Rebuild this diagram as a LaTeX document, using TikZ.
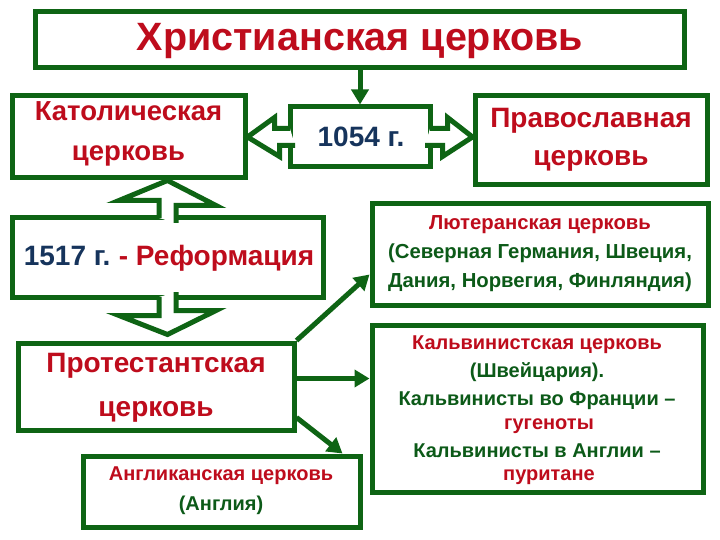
\documentclass[tikz,border=0pt]{standalone}
\usepackage{fontspec}
\setmainfont{Liberation Sans}
\usetikzlibrary{arrows.meta,calc}
\definecolor{bgreen}{RGB}{14,100,20}
\definecolor{tred}{RGB}{190,12,28}
\definecolor{tgreen}{RGB}{12,90,24}
\definecolor{tblue}{RGB}{22,52,92}
\begin{document}
\begin{tikzpicture}[x=1pt,y=-1pt,
  box/.style={draw=bgreen,line width=5pt,fill=white,inner sep=0pt},
  txt/.style={align=center,inner sep=0pt,font=\bfseries},
  harrow/.style={draw=bgreen,line width=5pt,line join=miter},
  conn/.style={draw=bgreen,line width=5pt,-{Triangle[length=15pt,width=17pt]}}]
\useasboundingbox[fill=white] (0,0) rectangle (720,540);
% boxes
\node[box,minimum width=649pt,minimum height=56pt] (title) at (359.5,40) {};
\node[box,minimum width=233pt,minimum height=82pt] (cath) at (128.5,137) {};
\node[box,minimum width=140pt,minimum height=60pt] (y1054) at (360,137) {};
\node[box,minimum width=232pt,minimum height=89pt] (orth) at (591,140.5) {};
\node[box,minimum width=311pt,minimum height=79pt] (ref) at (167.5,257.5) {};
\node[box,minimum width=276pt,minimum height=87pt] (prot) at (156,386.5) {};
\node[box,minimum width=277pt,minimum height=71pt] (angl) at (221.5,491.5) {};
\node[box,minimum width=336pt,minimum height=101pt] (luth) at (540,254.5) {};
\node[box,minimum width=331pt,minimum height=167pt] (calv) at (537.5,408.5) {};
% texts
\node[txt,text=tred,font=\fontsize{39.5}{40}\selectfont\bfseries] (ttitle) at (360,41) {Христианская церковь};
\node[txt,text=tred,font=\fontsize{27.5}{40}\selectfont\bfseries] (tcath) at (128.5,134) {Католическая\\церковь};
\node[txt,text=tblue,font=\fontsize{28}{30}\selectfont\bfseries] (t1054) at (361,137) {1054 г.};
\node[txt,text=tred,font=\fontsize{28}{38}\selectfont\bfseries] (torth) at (591,140) {Православная\\церковь};
\node[txt,font=\fontsize{28}{30}\selectfont\bfseries] (tref) at (169,258) {\textcolor{tblue}{1517 г.}\hspace{-2pt} \textcolor{tred}{- Реформация}};
\node[txt,text=tred,font=\fontsize{28}{44}\selectfont\bfseries] (tprot) at (156,388) {Протестантская\\церковь};
\node[txt,font=\fontsize{20}{30}\selectfont\bfseries] (tangl) at (221,491) {\textcolor{tred}{Англиканская церковь}\\\textcolor{tgreen}{(Англия)}};
\node[txt,font=\fontsize{20.3}{29}\selectfont\bfseries] (tluth) at (540,254) {\textcolor{tred}{Лютеранская церковь}\\\textcolor{tgreen}{(Северная Германия, Швеция,}\\\textcolor{tgreen}{Дания, Норвегия, Финляндия)}};
\node[txt,font=\fontsize{20}{28}\selectfont\bfseries] (tcalv) at (537,410) {\textcolor{tred}{Кальвинистская церковь}\\\textcolor{tgreen}{(Швейцария).}\\\textcolor{tgreen}{Кальвинисты во Франции –}\\[-4pt]\hspace*{24pt}\textcolor{tred}{гугеноты}\\\textcolor{tgreen}{Кальвинисты в Англии –}\\[-5pt]\hspace*{24pt}\textcolor{tred}{пуритане}};
% title -> 1054
\draw[conn] (title.south -| y1054.north) -- (y1054.north);
% hollow arrows 1054 -> cath
\fill[white] ([shift={(2.5,-8.5)}]y1054.west) -- ++(-15.5,0) -- ++(0,-11) -- (cath.east) -- ++(32,19.5) -- ++(0,-11) -- ++(15.5,0) -- cycle;
\draw[harrow] ([shift={(2.5,-8.5)}]y1054.west) -- ++(-15.5,0) -- ++(0,-11) -- (cath.east) -- ++(32,19.5) -- ++(0,-11) -- ++(15.5,0);
% 1054 -> orth
\coordinate (rtip) at (orth.west |- y1054.east);
\fill[white] ([shift={(-2.5,-8.5)}]y1054.east) -- ++(17.5,0) -- ++(0,-11) -- (rtip) -- ++(-30,19.5) -- ++(0,-11) -- ++(-17.5,0) -- cycle;
\draw[harrow] ([shift={(-2.5,-8.5)}]y1054.east) -- ++(17.5,0) -- ++(0,-11) -- (rtip) -- ++(-30,19.5) -- ++(0,-11) -- ++(-17.5,0);
% ref -> cath (up)
\coordinate (utip) at (ref.north |- cath.south);
\fill[white] ([shift={(-8.5,2.5)}]ref.north) -- ++(0,-17.5) -- ++(-40,0) -- (utip) -- ++(48.5,25) -- ++(-40,0) -- ++(0,17.5) -- cycle;
\draw[harrow] ([shift={(-8.5,2.5)}]ref.north) -- ++(0,-17.5) -- ++(-40,0) -- (utip) -- ++(48.5,25) -- ++(-40,0) -- ++(0,17.5);
% ref -> prot (down)
\coordinate (dtip) at ($(ref.south |- prot.north)+(0,-6)$);
\fill[white] ([shift={(-8.5,-2.5)}]ref.south) -- ++(0,18.5) -- ++(-40,0) -- (dtip) -- ++(48.5,-24) -- ++(-40,0) -- ++(0,-18.5) -- cycle;
\draw[harrow] ([shift={(-8.5,-2.5)}]ref.south) -- ++(0,18.5) -- ++(-40,0) -- (dtip) -- ++(48.5,-24) -- ++(-40,0) -- ++(0,-18.5);
% thin arrows from prot
\draw[conn] (prot.north east) -- ([yshift=33pt]luth.south west);
\coordinate (p2) at ([yshift=8pt]prot.east);
\draw[conn] (p2) -- (p2 -| calv.west);
\draw[conn] ([yshift=15pt]prot.south east) -- ([xshift=-20pt]angl.north east);
\end{tikzpicture}
\end{document}
